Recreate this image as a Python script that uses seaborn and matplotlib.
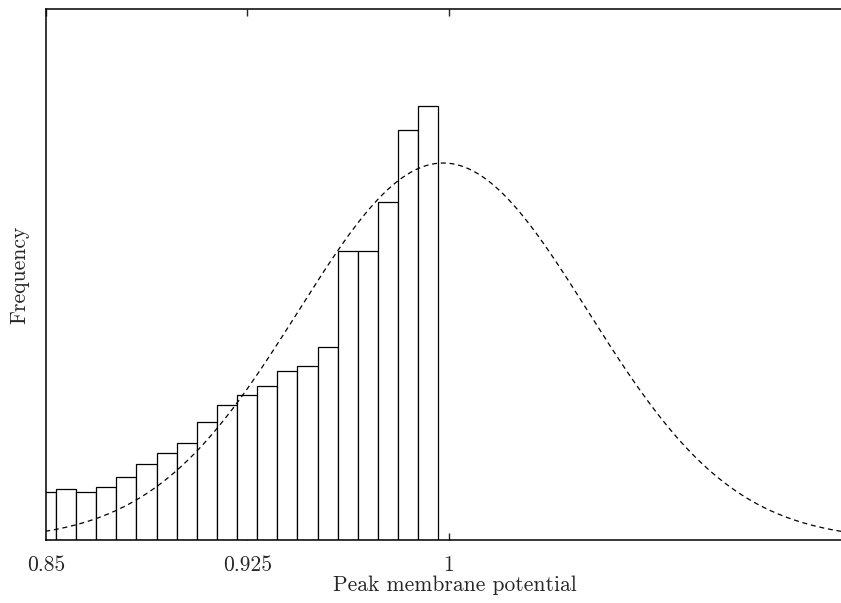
import numpy as np
import pandas as pd
import matplotlib
matplotlib.use("Agg")
import matplotlib.pyplot as plt
import seaborn as sns

# Histogram of peak membrane potentials (bin edges and counts)
bin_start = 0.8462
bin_width = 0.0075
counts = [48, 51, 48, 53, 63, 76, 87, 97, 118, 135,
          145, 154, 169, 174, 193, 289, 289, 338, 410, 434]

# Fitted normal curve parameters
fit_mu = 0.998
fit_sigma = 0.054
fit_peak = 377

x_ticks = [0.85, 0.925, 1.0]
x_tick_labels = ["0.85", "0.925", "1"]

sns.set_style("white")
plt.rcParams["font.family"] = ["cmr10", "DejaVu Serif"]
plt.rcParams["mathtext.fontset"] = "cm"
plt.rcParams["axes.formatter.use_mathtext"] = True

n_bins = len(counts)
edges = bin_start + bin_width * np.arange(n_bins + 1)
centers = (edges[:-1] + edges[1:]) / 2
hist_df = pd.DataFrame({"potential": centers, "count": counts})

xs = np.linspace(0.84, 1.16, 600)
fit_df = pd.DataFrame({
    "potential": xs,
    "density": fit_peak * np.exp(-0.5 * ((xs - fit_mu) / fit_sigma) ** 2),
})

fig = plt.figure(figsize=(8.41, 6.03), dpi=100)
W, H = 841, 603
left, right, top, bottom = 46, 851, 9, 540
ax = fig.add_axes([left / W, 1 - bottom / H, (right - left) / W, (bottom - top) / H])

sns.histplot(data=hist_df, x="potential", weights="count", bins=n_bins,
             binrange=(float(edges[0]), float(edges[-1])),
             stat="count", color="white", edgecolor="black", linewidth=0.9,
             alpha=1.0, ax=ax)
sns.lineplot(data=fit_df, x="potential", y="density", color="black",
             linewidth=0.9, ax=ax)
ax.lines[-1].set_dashes([4, 3])

ax.set_xlim(0.85, 1.15)
ax.set_ylim(0, 531)
ax.set_xticks(x_ticks)
ax.set_xticklabels(x_tick_labels)
ax.set_yticks([])
ax.tick_params(axis="x", direction="in", top=True, bottom=True, length=5,
               width=1.0, labelsize=15.5, pad=11)
for side in ["left", "bottom", "top", "right"]:
    ax.spines[side].set_linewidth(1.1)
    ax.spines[side].set_color("black")

ax.set_xlabel("Peak membrane potential", fontsize=15.5, labelpad=1)
ax.xaxis.set_label_coords(0.508, -0.066)
ax.set_ylabel("Frequency", fontsize=15.5, labelpad=12)

fig.savefig("out.png", dpi=100)
